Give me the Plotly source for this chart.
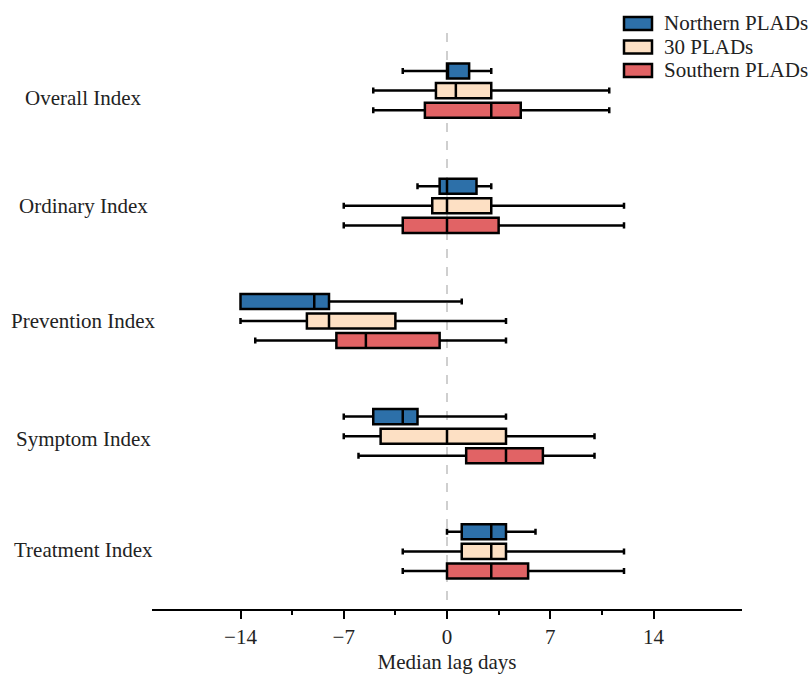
import plotly.graph_objects as go

categories = ["Overall Index", "Ordinary Index", "Prevention Index", "Symptom Index", "Treatment Index"]
series_names = ["Northern PLADs", "30 PLADs", "Southern PLADs"]

# per series: lowerfence, q1, median, q3, upperfence for each category
northern_low = [-3, -2, -14, -7, 0]
northern_q1 = [0, -0.5, -14, -5, 1]
northern_med = [0, 0, -9, -3, 3]
northern_q3 = [1.5, 2, -8, -2, 4]
northern_high = [3, 3, 1, 4, 6]

p30_low = [-5, -7, -14, -7, -3]
p30_q1 = [-0.75, -1, -9.5, -4.5, 1]
p30_med = [0.6, 0, -8, 0, 3]
p30_q3 = [3, 3, -3.5, 4, 4]
p30_high = [11, 12, 4, 10, 12]

southern_low = [-5, -7, -13, -6, -3]
southern_q1 = [-1.5, -3, -7.5, 1.3, 0]
southern_med = [3, 0, -5.5, 4, 3]
southern_q3 = [5, 3.5, -0.5, 6.5, 5.5]
southern_high = [11, 12, 4, 10, 12]

colors = ["#2d70a9", "#fde0c4", "#e16365"]

stats = [
    (northern_low, northern_q1, northern_med, northern_q3, northern_high),
    (p30_low, p30_q1, p30_med, p30_q3, p30_high),
    (southern_low, southern_q1, southern_med, southern_q3, southern_high),
]

FONT = "Liberation Serif, Times New Roman, serif"

# figure geometry (body margin removed via post_script)
W, H = 811, 674
ML, MR, MT, MB = 152, 69, 33, 65
PW, PH = W - ML - MR, H - MT - MB


def px_x(fx):
    return (fx - ML) / PW


def px_y(fy):
    return 1 - (fy - MT) / PH


fig = go.Figure()
for name, col, (lo, q1, med, q3, hi) in zip(series_names, colors, stats):
    fig.add_trace(go.Box(
        name=name,
        y=categories,
        lowerfence=lo, q1=q1, median=med, q3=q3, upperfence=hi,
        orientation="h",
        fillcolor=col,
        line=dict(color="black", width=2.5),
        whiskerwidth=0.4,
        boxpoints=False,
        showlegend=False,
    ))

fig.add_shape(type="line", xref="x", yref="paper", x0=0, x1=0, y0=px_y(600), y1=px_y(27),
              line=dict(color="#b0b0b0", width=1.2, dash="dash"), layer="below")

# category labels, centred
label_shift = [-7, 0, 0, -3, 1]
for cat, s in zip(categories, label_shift):
    fig.add_annotation(text=cat, xref="paper", yref="y", x=px_x(83), y=cat,
                       xanchor="center", yanchor="middle", showarrow=False, yshift=s,
                       font=dict(family=FONT, size=21, color="#222"))

# legend (drawn as patches + text)
legend_centers = [23.5, 47, 70.5]
for name, col, cy in zip(series_names, colors, legend_centers):
    fig.add_shape(type="rect", xref="paper", yref="paper",
                  x0=px_x(624), x1=px_x(652), y0=px_y(cy + 6.5), y1=px_y(cy - 6.5),
                  fillcolor=col, line=dict(color="black", width=2.5))
    fig.add_annotation(text=name, xref="paper", yref="paper", x=px_x(662), y=px_y(cy),
                       xanchor="left", yanchor="middle", showarrow=False,
                       font=dict(family=FONT, size=21, color="#222"))

fig.update_layout(
    width=W, height=H,
    margin=dict(l=ML, r=MR, t=MT, b=MB, autoexpand=False),
    paper_bgcolor="white", plot_bgcolor="white",
    boxmode="group", boxgap=0.49, boxgroupgap=0.23,
    font=dict(family=FONT, size=21, color="#222"),
    showlegend=False,
    xaxis=dict(range=[-20, 20], tickvals=[-14, -7, 0, 7, 14],
               ticktext=["\u221214", "\u22127", "0", "7", "14"],
               showline=True, linecolor="black", linewidth=1.5,
               ticks="outside", ticklen=8, tickwidth=1.5, tickcolor="black",
               minor=dict(tickvals=[-10.5, -3.5, 3.5, 10.5], ticks="outside", ticklen=4,
                          tickwidth=1.5, tickcolor="black"),
               showgrid=False, zeroline=False,
               title=dict(text="Median lag days", font=dict(family=FONT, size=21), standoff=6)),
    yaxis=dict(categoryorder="array", categoryarray=categories, autorange="reversed",
               showticklabels=False, showgrid=False, zeroline=False, showline=False, ticks=""),
)

fig.write_html("out.html",
               config={"displayModeBar": False},
               post_script="document.body.style.margin='0';document.body.style.overflow='hidden';")
